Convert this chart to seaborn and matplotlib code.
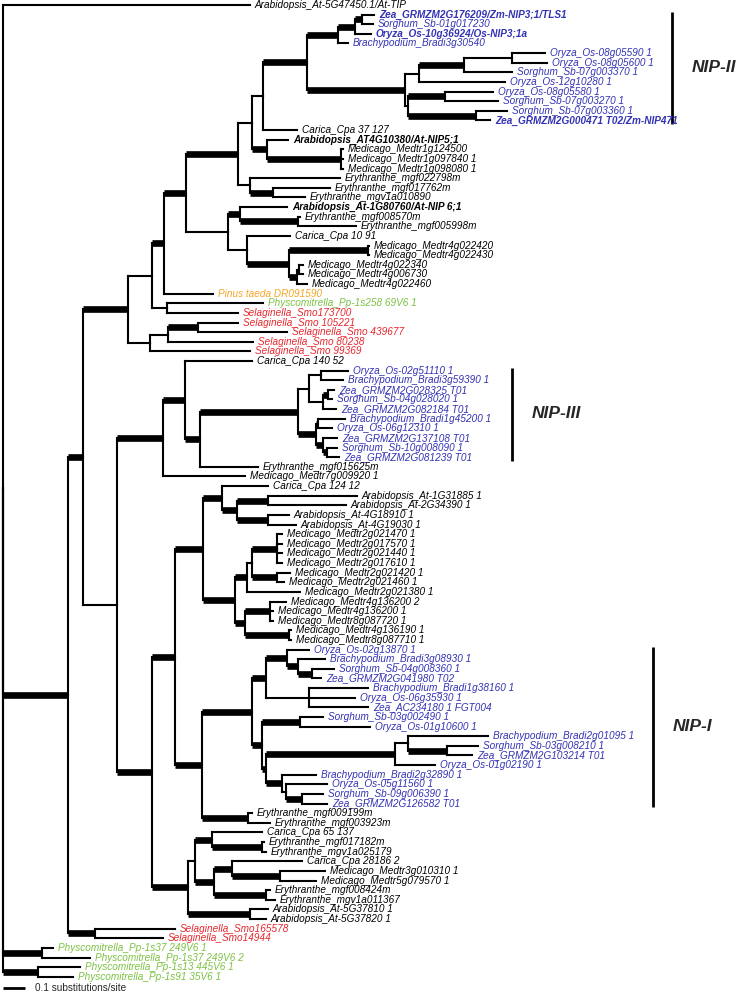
import re

import matplotlib.pyplot as plt
import pandas as pd
import seaborn as sns

# leaf labels, top to bottom
LEAF_NAMES = [
    "Arabidopsis_At-5G47450.1/At-TIP",
    "Zea_GRMZM2G176209/Zm-NIP3;1/TLS1", "Sorghum_Sb-01g017230",
    "Oryza_Os-10g36924/Os-NIP3;1a", "Brachypodium_Bradi3g30540",
    "Oryza_Os-08g05590 1", "Oryza_Os-08g05600 1", "Sorghum_Sb-07g003370 1",
    "Oryza_Os-12g10280 1", "Oryza_Os-08g05580 1", "Sorghum_Sb-07g003270 1",
    "Sorghum_Sb-07g003360 1", "Zea_GRMZM2G000471 T02/Zm-NIP471",
    "Carica_Cpa 37 127", "Arabidopsis_AT4G10380/At-NIP5;1",
    "Medicago_Medtr1g124500", "Medicago_Medtr1g097840 1", "Medicago_Medtr1g098080 1",
    "Erythranthe_mgf022798m", "Erythranthe_mgf017762m", "Erythranthe_mgv1a010890",
    "Arabidopsis_At-1G80760/At-NIP 6;1", "Erythranthe_mgf008570m",
    "Erythranthe_mgf005998m", "Carica_Cpa 10 91",
    "Medicago_Medtr4g022420", "Medicago_Medtr4g022430", "Medicago_Medtr4g022340",
    "Medicago_Medtr4g006730", "Medicago_Medtr4g022460",
    "Pinus taeda DR091590", "Physcomitrella_Pp-1s258 69V6 1",
    "Selaginella_Smo173700", "Selaginella_Smo 105221", "Selaginella_Smo 439677",
    "Selaginella_Smo 80238", "Selaginella_Smo 99369", "Carica_Cpa 140 52",
    "Oryza_Os-02g51110 1", "Brachypodium_Bradi3g59390 1", "Zea_GRMZM2G028325 T01",
    "Sorghum_Sb-04g028020 1", "Zea_GRMZM2G082184 T01", "Brachypodium_Bradi1g45200 1",
    "Oryza_Os-06g12310 1", "Zea_GRMZM2G137108 T01", "Sorghum_Sb-10g008090 1",
    "Zea_GRMZM2G081239 T01", "Erythranthe_mgf015625m", "Medicago_Medtr7g009920 1",
    "Carica_Cpa 124 12", "Arabidopsis_At-1G31885 1", "Arabidopsis_At-2G34390 1",
    "Arabidopsis_At-4G18910 1", "Arabidopsis_At-4G19030 1",
    "Medicago_Medtr2g021470 1", "Medicago_Medtr2g017570 1", "Medicago_Medtr2g021440 1",
    "Medicago_Medtr2g017610 1", "Medicago_Medtr2g021420 1", "Medicago_Medtr2g021460 1",
    "Medicago_Medtr2g021380 1", "Medicago_Medtr4g136200 2", "Medicago_Medtr4g136200 1",
    "Medicago_Medtr8g087720 1", "Medicago_Medtr4g136190 1", "Medicago_Medtr8g087710 1",
    "Oryza_Os-02g13870 1", "Brachypodium_Bradi3g08930 1", "Sorghum_Sb-04g008360 1",
    "Zea_GRMZM2G041980 T02", "Brachypodium_Bradi1g38160 1", "Oryza_Os-06g35930 1",
    "Zea_AC234180 1 FGT004", "Sorghum_Sb-03g002490 1", "Oryza_Os-01g10600 1",
    "Brachypodium_Bradi2g01095 1", "Sorghum_Sb-03g008210 1", "Zea_GRMZM2G103214 T01",
    "Oryza_Os-01g02190 1", "Brachypodium_Bradi2g32890 1", "Oryza_Os-05g11560 1",
    "Sorghum_Sb-09g006390 1", "Zea_GRMZM2G126582 T01",
    "Erythranthe_mgf009199m", "Erythranthe_mgf003923m", "Carica_Cpa 65 137",
    "Erythranthe_mgf017182m", "Erythranthe_mgv1a025179", "Carica_Cpa 28186 2",
    "Medicago_Medtr3g010310 1", "Medicago_Medtr5g079570 1", "Erythranthe_mgf008424m",
    "Erythranthe_mgv1a011367", "Arabidopsis_At-5G37810 1", "Arabidopsis_At-5G37820 1",
    "Selaginella_Smo165578", "Selaginella_Smo14944",
    "Physcomitrella_Pp-1s37 249V6 1", "Physcomitrella_Pp-1s37 249V6 2",
    "Physcomitrella_Pp-1s13 445V6 1", "Physcomitrella_Pp-1s91 35V6 1",
]

# distance of each tip from the root (substitutions/site)
TIP_DEPTH = [
    1.123,
    1.686, 1.682, 1.673, 1.568, 2.464, 2.473, 2.314, 2.282, 2.227, 2.250, 2.291, 2.214,
    1.336, 1.295, 1.545, 1.545, 1.545, 1.532, 1.486, 1.373, 1.291, 1.350, 1.605, 1.305,
    1.664, 1.664, 1.364, 1.364, 1.382,
    0.955, 1.182, 1.068, 1.068, 1.291, 1.136, 1.123, 1.132,
    1.568, 1.545, 1.505, 1.495, 1.514, 1.555, 1.495, 1.518, 1.518, 1.527,
    1.159, 1.100,
    1.205, 1.609, 1.559, 1.300, 1.332,
    1.268, 1.268, 1.268, 1.268, 1.305, 1.277, 1.350, 1.286, 1.227, 1.227, 1.309, 1.309,
    1.391, 1.464, 1.505, 1.445, 1.659, 1.600, 1.659, 1.455, 1.668,
    2.205, 2.159, 2.132, 1.964, 1.423, 1.473, 1.455, 1.473,
    1.132, 1.214, 1.177, 1.186, 1.195, 1.359, 1.464, 1.423, 1.214, 1.236, 1.205, 1.195,
    0.782, 0.727,
    0.227, 0.395, 0.350, 0.318,
]

BOLD_LEAVES = [1, 3, 12, 14, 21]

# topology: leaves by index, internal nodes as (...)depth, '*' = well supported (thick)
NIP_II = ("((((1,2)1.632*,3)1.6*,4)1.523*,((((5,6)2.314,7)2.095*,8)1.891,"
          "((9,10)2.009*,(11,12)2.15*)1.841)1.827*)1.382*")
UPPER = ("(((((((" + NIP_II + ",13)1.182,(14,(15,16,17)1.536*)1.2*)1.132,"
         "(18,(19,20)1.227*)1.123)1.068*,"
         "((21,(22,23)1.341*)1.077*,(24,((25,26)1.659*,((27,28)1.345,29)1.336*)1.3*)1.109)1.023"
         ")0.832*,30)0.732*,(31,32)0.745)0.677,"
         "(((33,34)0.886*,35)0.75,36)0.668)0.568*")
NIP_III = ("(((38,39)1.445,((40,41)1.477*,42)1.455)1.391,"
           "((43,44)1.432*,(45,(46,47)1.473*)1.455*)1.423*)1.341*")
NIP_I = ("(((67,(68,(69,70)1.405*)1.341*)1.291*,(71,72,73)1.391)1.195*,"
         "((74,75)1.35*,(((76,(77,78)2.018*)1.841,79)1.782*,"
         "(80,(81,(82,83)1.359*)1.286)1.268*)1.195*)1.177*)1.132*")
LOWER = ("(((37,(" + NIP_III + ",48)0.895*)0.827*,49)0.727*,"
         "((((50,((51,52)1.205*,(53,54)1.205*)1.064*)0.995*,"
         "((((55,56,57,58)1.245*,(59,60)1.245*)1.132,61)1.109*,"
         "((62,63,64)1.214*,(65,66)1.3*)1.1*)1.055*)0.909*,"
         "(" + NIP_I + ",(84,85)1.114*)0.905*)0.782*,"
         "(((86,(87,88)1.177*)0.95*,((89,(90,91)1.259*)1.041*,(92,93)1.195*)0.959*)0.873,"
         "(94,95)1.123*)0.841*)0.677*)0.518")
TOPOLOGY = "(0,((" + UPPER + "," + LOWER + ")0.364*,(96,97)0.418*)0.295*,(98,99)0.177*,(100,101)0.159*)0"

CLADES = ["NIP-II", "NIP-III", "NIP-I"]
CLADE_SPAN = [(1, 12), (38, 47), (67, 83)]

GENUS_COLORS = {
    "Oryza": "#3232b4", "Sorghum": "#3232b4", "Zea": "#3232b4", "Brachypodium": "#3232b4",
    "Selaginella": "#e8262d", "Physcomitrella": "#7cc242", "Pinus": "#f5a623",
}


def parse_tree(text):
    text = text.replace(" ", "")
    pos = 0

    def node():
        nonlocal pos
        if text[pos] == "(":
            pos += 1
            kids = [node()]
            while text[pos] == ",":
                pos += 1
                kids.append(node())
            pos += 1
            m = re.match(r"[\d.]+", text[pos:])
            pos += m.end()
            thick = text[pos:pos + 1] == "*"
            pos += int(thick)
            return {"kids": kids, "depth": float(m.group()), "thick": thick}
        m = re.match(r"\d+", text[pos:])
        pos += m.end()
        i = int(m.group())
        return {"leaf": i, "depth": TIP_DEPTH[i], "thick": False, "y": float(i)}

    return node()


def layout(n):
    if "kids" in n:
        for k in n["kids"]:
            layout(k)
        n["y"] = (n["kids"][0]["y"] + n["kids"][-1]["y"]) / 2


def segments(n, rows):
    if "kids" not in n:
        return
    for k in n["kids"]:
        sid = len(rows)
        rows.append({"seg": sid, "x": n["depth"], "y": n["y"], "w": "thin"})
        rows.append({"seg": sid, "x": n["depth"], "y": k["y"], "w": "thin"})
        sid = len(rows)
        w = "thick" if k["thick"] else "thin"
        rows.append({"seg": sid, "x": n["depth"], "y": k["y"], "w": w})
        rows.append({"seg": sid, "x": k["depth"], "y": k["y"], "w": w})
        segments(k, rows)


tree = parse_tree(TOPOLOGY)
layout(tree)
rows = []
segments(tree, rows)
seg = pd.DataFrame(rows)

sns.set_theme(style="white")
plt.rcParams["font.family"] = ["Liberation Sans", "DejaVu Sans"]

fig = plt.figure(figsize=(7.42, 9.96), dpi=100)
ax = fig.add_axes([0, 0, 1, 1])

plt.rcParams["lines.solid_capstyle"] = "projecting"
sns.lineplot(data=seg[seg["w"] == "thin"], x="x", y="y", units="seg", estimator=None,
             sort=False, color="black", linewidth=1.5, ax=ax, legend=False)
plt.rcParams["lines.solid_capstyle"] = "butt"
sns.lineplot(data=seg[seg["w"] == "thick"], x="x", y="y", units="seg", estimator=None,
             sort=False, color="black", linewidth=4.8, ax=ax, legend=False)

for i, name in enumerate(LEAF_NAMES):
    color = GENUS_COLORS.get(re.split(r"[_ ]", name)[0], "black")
    ax.annotate(name, (TIP_DEPTH[i], i), xytext=(3.5, 0), textcoords="offset points",
                va="center", ha="left", fontsize=7.2, style="italic", color=color,
                fontweight="bold" if i in BOLD_LEAVES else "normal")

clade_x = [3.041, 2.314, 2.955]
for name, (a, b), cx in zip(CLADES, CLADE_SPAN, clade_x):
    ax.plot([cx, cx], [a - 0.3, b + 0.4], color="black", linewidth=2)
    ax.text(cx + 0.09, (a + b) / 2, name, fontsize=12.5, fontweight="bold", style="italic",
            va="center", ha="left")

# scale bar
ax.plot([0, 0.1], [102.2, 102.2], color="black", linewidth=2)
ax.text(0.145, 102.2, "0.1 substitutions/site", fontsize=7.2, va="center", ha="left")

ax.set_xlim(-3 / 220, 739 / 220)
ax.set_ylim(103.0, -0.52)
ax.axis("off")
fig.savefig("out.png", dpi=100)
